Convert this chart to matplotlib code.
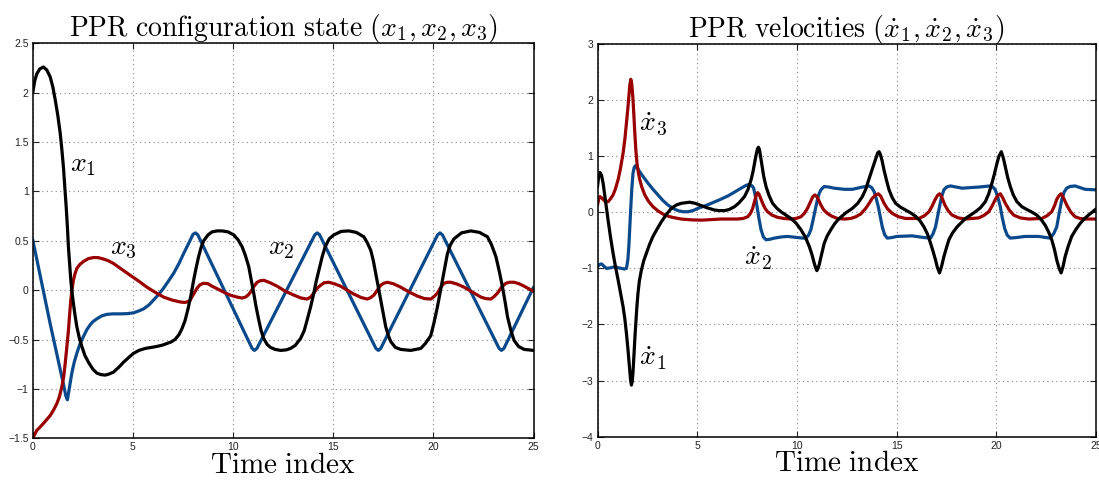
import matplotlib
matplotlib.use("Agg")
import matplotlib.pyplot as plt
from matplotlib.ticker import FuncFormatter

plt.rcParams["mathtext.fontset"] = "cm"
plt.rcParams["font.family"] = ["Liberation Sans", "DejaVu Sans"]

# ---- configuration state ----
t_x1 = [0.0, 0.1, 0.2, 0.35, 0.53, 0.7, 0.87, 1.0, 1.12, 1.25, 1.37, 1.45, 1.53, 1.6, 1.67,
        1.73, 1.78, 1.84, 1.9, 1.96, 2.03, 2.1, 2.2, 2.32, 2.45, 2.6, 2.78, 3.0, 3.2, 3.4,
        3.62, 3.8, 4.03, 4.3, 4.53, 4.8, 5.03, 5.3, 5.62, 5.9, 6.2, 6.5, 6.7, 6.9, 7.1, 7.3,
        7.45, 7.6, 7.75, 7.9, 8.03, 8.15, 8.28, 8.4, 8.53, 8.75, 8.95, 9.2, 9.45, 9.75,
        10.03, 10.25, 10.45, 10.6, 10.78, 10.9, 11.03, 11.15, 11.28, 11.4, 11.53, 11.7,
        11.87, 12.1, 12.37, 12.65, 12.87, 13.1, 13.37, 13.55, 13.7, 13.87, 14.03, 14.15,
        14.28, 14.45, 14.6, 14.8, 15.03, 15.4, 15.78, 16.15, 16.53, 16.7, 16.87, 17.0, 17.12,
        17.25, 17.37, 17.5, 17.62, 17.75, 17.87, 18.1, 18.37, 18.87, 19.37, 19.6, 19.87,
        20.03, 20.2, 20.33, 20.45, 20.58, 20.7, 20.85, 21.03, 21.4, 21.87, 22.3, 22.7, 22.9,
        23.12, 23.3, 23.45, 23.58, 23.7, 23.87, 24.03, 24.25, 24.53, 25.0]
x1 = [2.0, 2.12, 2.19, 2.24, 2.26, 2.23, 2.16, 2.06, 1.93, 1.77, 1.59, 1.43, 1.25, 1.05, 0.84,
      0.64, 0.44, 0.27, 0.10, -0.02, -0.135, -0.24, -0.37, -0.48, -0.57, -0.66, -0.73,
      -0.80, -0.84, -0.855, -0.86, -0.85, -0.83, -0.78, -0.73, -0.68, -0.64, -0.61, -0.59,
      -0.58, -0.57, -0.555, -0.54, -0.525, -0.50, -0.45, -0.39, -0.31, -0.19, -0.05, 0.10,
      0.22, 0.34, 0.43, 0.50, 0.56, 0.59, 0.60, 0.60, 0.59, 0.56, 0.51, 0.44, 0.36, 0.24,
      0.11, -0.03, -0.17, -0.30, -0.41, -0.49, -0.55, -0.58, -0.60, -0.61, -0.605, -0.59,
      -0.56, -0.49, -0.41, -0.30, -0.17, -0.03, 0.09, 0.20, 0.34, 0.44, 0.52, 0.56, 0.595,
      0.60, 0.585, 0.54, 0.48, 0.405, 0.30, 0.17, 0.03, -0.10, -0.24, -0.37, -0.46, -0.52,
      -0.58, -0.60, -0.61, -0.59, -0.54, -0.46, -0.33, -0.17, -0.03, 0.10, 0.24, 0.37, 0.46,
      0.52, 0.58, 0.60, 0.585, 0.54, 0.46, 0.34, 0.18, 0.03, -0.12, -0.27, -0.41, -0.51,
      -0.57, -0.60, -0.61]

t_x2 = [0.0, 0.87, 1.53, 1.65, 1.73, 1.82, 1.95, 2.07, 2.2, 2.35, 2.53, 2.7, 2.87, 3.0, 3.2,
        3.45, 3.7, 4.0, 4.37, 4.7, 5.03, 5.3, 5.53, 5.8, 6.03, 6.3, 6.53, 6.8, 7.03, 7.3,
        7.53, 7.7, 7.87, 8.0, 8.12, 8.24, 10.95, 11.07, 11.19, 14.08, 14.2, 14.32, 17.13,
        17.25, 17.37, 20.21, 20.33, 20.45, 23.28, 23.4, 23.52, 25.0]
x2 = [0.51, -0.34, -0.95, -1.07, -1.11, -1.0, -0.84, -0.73, -0.64, -0.55, -0.47, -0.40,
      -0.35, -0.32, -0.29, -0.26, -0.245, -0.24, -0.24, -0.238, -0.23, -0.21, -0.19, -0.15,
      -0.10, -0.04, 0.02, 0.10, 0.17, 0.27, 0.37, 0.44, 0.51, 0.565, 0.58, 0.56, -0.59,
      -0.61, -0.59, 0.56, 0.58, 0.56, -0.59, -0.61, -0.59, 0.56, 0.58, 0.56, -0.59, -0.61,
      -0.59, 0.03]

t_x3 = [0.0, 0.1, 0.2, 0.35, 0.53, 0.7, 0.87, 1.05, 1.2, 1.33, 1.45, 1.55, 1.62, 1.7, 1.78,
        1.84, 1.9, 1.96, 2.03, 2.1, 2.2, 2.35, 2.53, 2.78, 3.03, 3.25, 3.45, 3.75, 4.03,
        4.45, 4.87, 5.3, 5.7, 6.1, 6.53, 6.95, 7.37, 7.6, 7.83, 8.0, 8.2, 8.35, 8.53, 8.75,
        8.95, 9.25, 9.53, 9.85, 10.2, 10.45, 10.62, 10.75, 10.87, 11.05, 11.2, 11.35, 11.53,
        11.85, 12.2, 12.6, 13.03, 13.4, 13.7, 13.87, 14.03, 14.2, 14.37, 14.55, 14.78, 15.05,
        15.37, 15.7, 16.03, 16.4, 16.7, 16.87, 17.03, 17.2, 17.37, 17.52, 17.7, 18.0, 18.37,
        18.8, 19.2, 19.55, 19.87, 20.03, 20.2, 20.37, 20.53, 20.7, 20.87, 21.2, 21.53, 21.95,
        22.37, 22.6, 22.87, 23.03, 23.2, 23.4, 23.62, 23.8, 24.03, 24.28, 24.53, 24.8, 25.0]
x3 = [-1.5, -1.46, -1.42, -1.39, -1.35, -1.31, -1.27, -1.21, -1.15, -1.08, -0.98, -0.87,
      -0.74, -0.58, -0.41, -0.25, -0.10, 0.01, 0.10, 0.16, 0.22, 0.26, 0.29, 0.32, 0.33,
      0.33, 0.32, 0.30, 0.27, 0.21, 0.15, 0.09, 0.03, -0.02, -0.07, -0.10, -0.12, -0.125,
      -0.11, -0.05, 0.02, 0.055, 0.07, 0.065, 0.04, 0.01, -0.02, -0.05, -0.07, -0.08, -0.07,
      -0.05, -0.02, 0.04, 0.08, 0.095, 0.10, 0.075, 0.04, -0.01, -0.05, -0.08, -0.09, -0.07,
      -0.03, 0.02, 0.05, 0.075, 0.08, 0.065, 0.04, 0.0, -0.04, -0.075, -0.09, -0.075, -0.05,
      0.0, 0.05, 0.07, 0.08, 0.065, 0.03, -0.02, -0.06, -0.085, -0.09, -0.065, -0.03, 0.03,
      0.07, 0.08, 0.08, 0.06, 0.03, -0.02, -0.07, -0.085, -0.09, -0.065, -0.03, 0.03, 0.07,
      0.08, 0.08, 0.065, 0.04, 0.01, -0.01]

# ---- velocities ----
t_v1 = [0.0, 0.05, 0.12, 0.2, 0.28, 0.4, 0.53, 0.65, 0.78, 0.9, 1.03, 1.15, 1.28, 1.37, 1.45,
        1.52, 1.57, 1.62, 1.66, 1.7, 1.74, 1.78, 1.83, 1.88, 1.92, 1.97, 2.03, 2.1, 2.2,
        2.32, 2.45, 2.6, 2.78, 3.0, 3.2, 3.45, 3.7, 3.95, 4.2, 4.62, 4.9, 5.2, 5.5, 5.87,
        6.1, 6.37, 6.6, 6.87, 7.1, 7.37, 7.55, 7.7, 7.8, 7.87, 7.95, 8.02, 8.07, 8.12, 8.17,
        8.23, 8.33, 8.45, 8.6, 8.78, 9.0, 9.2, 9.45, 9.7, 9.95, 10.2, 10.42, 10.62, 10.75,
        10.87, 10.95, 11.0, 11.06, 11.12, 11.17, 11.27, 11.37, 11.52, 11.7, 11.9, 12.12,
        12.45, 12.78, 13.05, 13.28, 13.45, 13.6, 13.75, 13.87, 13.97, 14.05, 14.12, 14.19,
        14.27, 14.37, 14.5, 14.62, 14.78, 14.95, 15.2, 15.45, 15.7, 15.95, 16.17, 16.37,
        16.55, 16.7, 16.83, 16.95, 17.05, 17.15, 17.25, 17.37, 17.5, 17.62, 17.8, 18.03,
        18.25, 18.45, 18.7, 18.95, 19.2, 19.45, 19.62, 19.78, 19.9, 20.03, 20.13, 20.25,
        20.35, 20.45, 20.57, 20.7, 20.85, 21.03, 21.28, 21.53, 21.8, 22.03, 22.25, 22.45,
        22.62, 22.78, 22.92, 23.03, 23.15, 23.25, 23.35, 23.45, 23.6, 23.78, 24.0, 24.2,
        24.4, 24.62, 24.8, 25.0]
v1 = [0.46, 0.62, 0.71, 0.66, 0.52, 0.20, -0.14, -0.44, -0.73, -0.97, -1.20, -1.43, -1.68,
      -1.90, -2.16, -2.42, -2.63, -2.85, -3.0, -3.08, -3.02, -2.85, -2.51, -2.20, -1.98,
      -1.70, -1.44, -1.22, -1.03, -0.86, -0.73, -0.58, -0.43, -0.29, -0.17, -0.04, 0.07,
      0.13, 0.16, 0.18, 0.16, 0.12, 0.08, 0.04, 0.03, 0.03, 0.05, 0.10, 0.17, 0.28, 0.41,
      0.58, 0.73, 0.87, 1.02, 1.13, 1.16, 1.12, 1.01, 0.87, 0.65, 0.46, 0.30, 0.16, 0.07,
      0.01, -0.05, -0.11, -0.19, -0.31, -0.44, -0.61, -0.75, -0.91, -1.0, -1.04, -1.0,
      -0.93, -0.85, -0.70, -0.55, -0.42, -0.31, -0.20, -0.11, -0.01, 0.07, 0.16, 0.28, 0.41,
      0.58, 0.74, 0.87, 0.98, 1.06, 1.08, 1.03, 0.92, 0.75, 0.56, 0.40, 0.26, 0.16, 0.09,
      0.04, -0.01, -0.07, -0.15, -0.26, -0.39, -0.55, -0.70, -0.85, -0.99, -1.08, -0.97,
      -0.79, -0.63, -0.49, -0.37, -0.26, -0.18, -0.11, -0.05, 0.01, 0.08, 0.19, 0.33, 0.52,
      0.68, 0.87, 1.0, 1.08, 0.97, 0.81, 0.62, 0.46, 0.31, 0.19, 0.10, 0.05, 0.0, -0.05,
      -0.13, -0.23, -0.35, -0.49, -0.67, -0.85, -1.0, -1.08, -0.96, -0.79, -0.61, -0.43,
      -0.30, -0.20, -0.12, -0.05, 0.0, 0.06]

t_v2 = [0.0, 0.1, 0.2, 0.32, 0.45, 0.65, 0.87, 1.05, 1.2, 1.35, 1.45, 1.52, 1.57, 1.62, 1.67,
        1.72, 1.78, 1.84, 1.9, 2.0, 2.12, 2.3, 2.53, 2.78, 3.03, 3.28, 3.53, 3.78, 4.03,
        4.28, 4.53, 4.78, 5.03, 5.35, 5.7, 6.1, 6.53, 6.87, 7.2, 7.45, 7.62, 7.75, 7.83,
        7.92, 8.0, 8.1, 8.2, 8.32, 8.45, 8.65, 8.87, 9.2, 9.53, 10.03, 10.3, 10.45, 10.58,
        10.7, 10.82, 10.95, 11.05, 11.12, 11.22, 11.37, 11.6, 11.87, 12.37, 12.78, 13.28,
        13.62, 13.75, 13.87, 13.98, 14.08, 14.18, 14.28, 14.4, 14.53, 14.75, 15.03, 15.78,
        16.37, 16.7, 16.83, 16.95, 17.05, 17.15, 17.25, 17.37, 17.5, 17.7, 18.28, 19.12,
        19.7, 19.83, 19.95, 20.08, 20.2, 20.3, 20.42, 20.55, 20.7, 21.0, 21.45, 22.12, 22.5,
        22.7, 22.88, 23.03, 23.15, 23.28, 23.4, 23.53, 23.7, 23.95, 24.2, 24.45, 25.0]
v2 = [-0.97, -0.93, -0.92, -0.96, -1.0, -0.99, -0.97, -0.99, -1.0, -1.01, -1.0, -0.85,
      -0.61, -0.25, 0.10, 0.42, 0.70, 0.80, 0.83, 0.79, 0.72, 0.63, 0.52, 0.41, 0.31, 0.21,
      0.13, 0.07, 0.03, 0.01, 0.01, 0.03, 0.07, 0.11, 0.16, 0.22, 0.29, 0.36, 0.43, 0.48,
      0.50, 0.47, 0.43, 0.28, 0.10, -0.12, -0.31, -0.44, -0.49, -0.48, -0.46, -0.44, -0.43,
      -0.45, -0.46, -0.46, -0.41, -0.31, -0.12, 0.10, 0.26, 0.34, 0.41, 0.46, 0.45, 0.43,
      0.41, 0.41, 0.45, 0.47, 0.44, 0.37, 0.24, 0.10, -0.08, -0.26, -0.40, -0.46, -0.45,
      -0.43, -0.42, -0.45, -0.46, -0.38, -0.26, -0.08, 0.10, 0.27, 0.40, 0.45, 0.47, 0.43,
      0.45, 0.47, 0.45, 0.40, 0.26, 0.10, -0.10, -0.29, -0.41, -0.46, -0.45, -0.43, -0.43,
      -0.45, -0.46, -0.38, -0.26, -0.02, 0.22, 0.36, 0.43, 0.46, 0.47, 0.44, 0.41, 0.40]

t_v3 = [0.0, 0.06, 0.12, 0.2, 0.28, 0.4, 0.53, 0.65, 0.78, 0.9, 1.03, 1.15, 1.28, 1.37, 1.45,
        1.52, 1.57, 1.62, 1.67, 1.72, 1.77, 1.82, 1.87, 1.92, 1.98, 2.05, 2.12, 2.23, 2.37,
        2.55, 2.78, 3.05, 3.37, 3.75, 4.2, 4.7, 5.2, 5.7, 6.2, 6.6, 7.03, 7.3, 7.53, 7.67,
        7.78, 7.88, 7.96, 8.03, 8.1, 8.18, 8.28, 8.4, 8.53, 8.75, 9.03, 9.35, 9.7, 9.95,
        10.2, 10.37, 10.53, 10.67, 10.8, 10.9, 11.0, 11.1, 11.2, 11.35, 11.53, 11.75, 12.03,
        12.4, 12.7, 12.95, 13.2, 13.45, 13.62, 13.78, 13.95, 14.08, 14.2, 14.37, 14.55,
        14.78, 15.1, 15.45, 16.12, 16.4, 16.62, 16.78, 16.92, 17.05, 17.15, 17.25, 17.42,
        17.58, 17.78, 18.1, 18.45, 19.12, 19.4, 19.62, 19.8, 19.95, 20.08, 20.2, 20.32,
        20.45, 20.65, 20.87, 21.2, 21.62, 22.28, 22.55, 22.78, 22.92, 23.03, 23.15, 23.25,
        23.38, 23.53, 23.72, 23.95, 24.2, 24.45, 25.0]
v3 = [0.13, 0.24, 0.28, 0.26, 0.23, 0.19, 0.19, 0.24, 0.31, 0.42, 0.58, 0.78, 1.05, 1.30,
      1.59, 1.85, 2.06, 2.27, 2.37, 2.28, 2.06, 1.75, 1.41, 1.12, 0.87, 0.70, 0.58, 0.44,
      0.31, 0.20, 0.10, 0.02, -0.05, -0.09, -0.12, -0.135, -0.14, -0.13, -0.12, -0.12,
      -0.12, -0.11, -0.08, -0.02, 0.07, 0.20, 0.31, 0.35, 0.32, 0.25, 0.16, 0.07, 0.01,
      -0.05, -0.09, -0.11, -0.12, -0.11, -0.08, -0.02, 0.07, 0.18, 0.28, 0.31, 0.28, 0.21,
      0.13, 0.04, -0.02, -0.07, -0.11, -0.12, -0.11, -0.08, -0.03, 0.07, 0.16, 0.25, 0.31,
      0.33, 0.29, 0.16, 0.06, -0.02, -0.08, -0.11, -0.11, -0.06, 0.01, 0.11, 0.22, 0.30,
      0.33, 0.28, 0.13, 0.03, -0.05, -0.10, -0.12, -0.10, -0.05, 0.01, 0.12, 0.23, 0.30,
      0.33, 0.26, 0.16, 0.04, -0.05, -0.10, -0.12, -0.11, -0.06, 0.01, 0.12, 0.23, 0.30,
      0.33, 0.25, 0.13, 0.01, -0.08, -0.11, -0.12, -0.12]

BLACK = "#000000"
BLUE = "#0a4a8c"
RED = "#990000"
LW = 2.3


def fmt(v, _):
    s = "%g" % v
    return s.replace("-", "\u2212")


def style(ax, ylim, yticks):
    ax.set_xlim(0, 25)
    ax.set_ylim(*ylim)
    ax.set_xticks([0, 5, 10, 15, 20, 25])
    ax.set_yticks(yticks)
    ax.xaxis.set_major_formatter(FuncFormatter(fmt))
    ax.yaxis.set_major_formatter(FuncFormatter(fmt))
    ax.grid(True, linestyle=(0, (1, 3)), color="#888888", linewidth=0.8)
    ax.tick_params(direction="in", top=True, right=True, length=4, width=0.8,
                   labelsize=7.5, pad=3, colors="#222222")
    for sp in ax.spines.values():
        sp.set_linewidth(1.1)
    ax.set_xlabel(r"$\mathrm{Time\ index}$", fontsize=21, labelpad=-1)


def draw(ax, t, v, color):
    ax.plot(t, v, color=color, lw=LW, solid_joinstyle="round", solid_capstyle="round")


fig = plt.figure(figsize=(10.99, 4.82), dpi=100)
ax1 = fig.add_axes([0.0298, 0.0907, 0.4557, 0.8195])
ax2 = fig.add_axes([0.5437, 0.094, 0.4536, 0.8147])

draw(ax1, t_x2, x2, BLUE)
draw(ax1, t_x3, x3, RED)
draw(ax1, t_x1, x1, BLACK)
style(ax1, (-1.5, 2.5), [-1.5, -1, -0.5, 0, 0.5, 1, 1.5, 2, 2.5])
ax1.set_title(r"$\mathrm{PPR\ configuration\ state}\ (x_1, x_2, x_3)$", fontsize=20, pad=5)
ax1.text(1.87, 1.2, r"$x_1$", fontsize=20)
ax1.text(3.85, 0.36, r"$x_3$", fontsize=20)
ax1.text(11.75, 0.36, r"$x_2$", fontsize=20)

draw(ax2, t_v2, v2, BLUE)
draw(ax2, t_v3, v3, RED)
draw(ax2, t_v1, v1, BLACK)
style(ax2, (-4, 3), [-4, -3, -2, -1, 0, 1, 2, 3])
ax2.set_title(r"$\mathrm{PPR\ velocities}\ (\dot{x}_1, \dot{x}_2, \dot{x}_3)$", fontsize=20, pad=5)
ax2.text(2.1, 1.47, r"$\dot{x}_3$", fontsize=20)
ax2.text(7.35, -0.94, r"$\dot{x}_2$", fontsize=20)
ax2.text(2.1, -2.72, r"$\dot{x}_1$", fontsize=20)

fig.savefig("out.png", dpi=100)
